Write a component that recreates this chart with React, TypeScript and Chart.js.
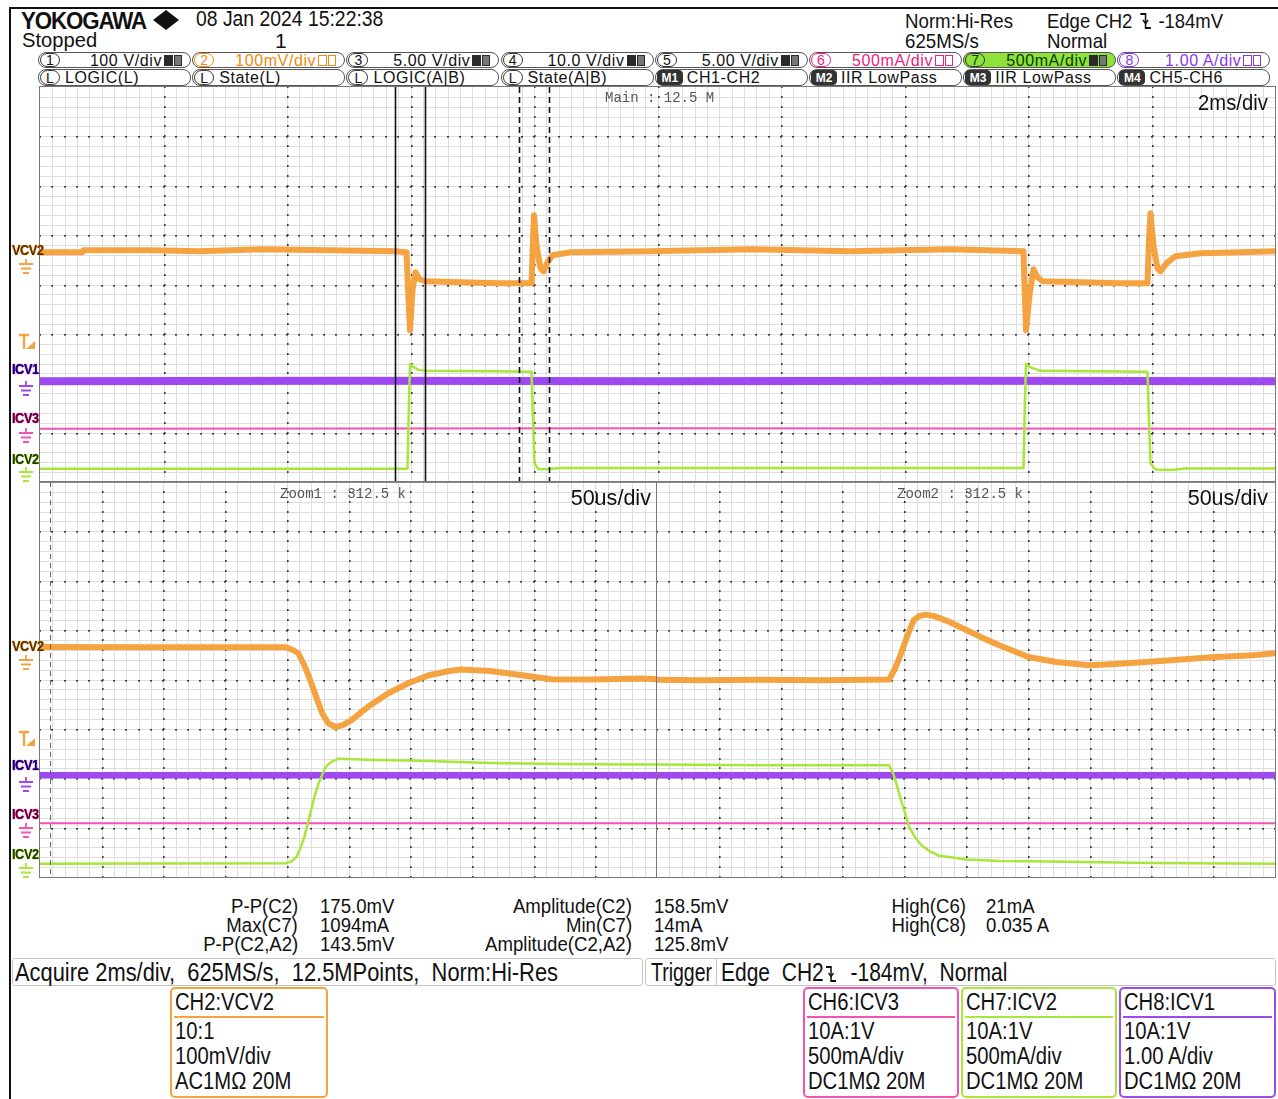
import React, { useEffect, useRef } from "react";
import { Chart, registerables } from "chart.js";

Chart.register(...registerables);

type Pt = [number, number];

// ================= DATA =================
// Main window: time in ms (2 ms/div, 10 div); vertical position in screen divisions (-4..4)
const mainSpanMs: Pt = [0, 20];
// Zoom windows: time in us (50 us/div, 10 div)
const zoomSpanUs: Pt = [0, 500];
const verticalSpanDiv: Pt = [-4, 4];

const mainVcv2: Pt[] = [
  [0, 0.654], [0.69, 0.654], [0.7, 0.695], [1.79, 0.695], [2.6, 0.674], [3.57, 0.715], [4.7, 0.695],
  [5.76, 0.674], [5.935, 0.654], [5.968, -0.319], [5.992, -0.928], [6.032, -0.116], [6.081, 0.248],
  [6.146, 0.106], [6.243, 0.066], [6.81, 0.045], [7.457, 0.025], [7.96, 0.025], [7.984, 0.897],
  [8.0, 1.404], [8.04, 0.796], [8.105, 0.329], [8.154, 0.268], [8.219, 0.451], [8.3, 0.593],
  [8.59, 0.654], [9.89, 0.674], [11.51, 0.715], [13.13, 0.674], [14.75, 0.715], [15.927, 0.674],
  [15.951, -0.319], [15.968, -0.928], [16.024, -0.218], [16.089, 0.309], [16.154, 0.147],
  [16.235, 0.066], [16.85, 0.045], [17.5, 0.025], [17.935, 0.025], [17.959, 0.897], [17.984, 1.445],
  [18.032, 0.796], [18.097, 0.329], [18.146, 0.268], [18.243, 0.431], [18.389, 0.573],
  [18.794, 0.634], [19.44, 0.654], [20, 0.674],
];
const mainIcv2: Pt[] = [
  [0, -3.733], [5.919, -3.733], [5.951, -3.727], [5.976, -2.347], [5.992, -1.607], [6.032, -1.658],
  [6.13, -1.729], [6.243, -1.749], [7.457, -1.759], [7.96, -1.769], [7.984, -2.753], [8.008, -3.625],
  [8.073, -3.743], [8.235, -3.737], [8.429, -3.716], [15.927, -3.716], [15.951, -2.347],
  [15.968, -1.607], [16.04, -1.678], [16.202, -1.749], [17.935, -1.769], [17.959, -2.753],
  [17.984, -3.625], [18.065, -3.747], [18.308, -3.757], [18.551, -3.727], [20, -3.727],
];
const mainIcv1: Pt[] = [[0, -1.96], [5, -1.95], [10, -1.96], [15, -1.95], [20, -1.96]];
const mainIcv3: Pt[] = [[0, -2.92], [10, -2.91], [20, -2.92]];

const zoom1Vcv2: Pt[] = [
  [0, 0.66], [89.5, 0.654], [198.8, 0.654], [201.2, 0.634], [205.3, 0.593], [209.3, 0.532],
  [214.2, 0.289], [219.0, -0.015], [223.9, -0.36], [228.7, -0.684], [233.6, -0.887], [239.3, -0.962],
  [244.9, -0.928], [252.2, -0.827], [265.2, -0.563], [282.2, -0.279], [298.4, -0.076], [315.1, 0.086],
  [331.6, 0.173], [341.3, 0.202], [364.8, 0.173], [390.7, 0.086], [414.2, 0.005], [447.4, -0.001],
  [486.3, 0.019], [500, 0.005],
];
const zoom1Icv2: Pt[] = [
  [0, -3.733], [199.6, -3.72], [203.6, -3.686], [207.7, -3.599], [210.9, -3.422], [214.2, -3.193],
  [218.2, -2.794], [222.3, -2.382], [225.5, -2.124], [229.1, -1.901], [232.0, -1.759], [235.7, -1.672],
  [242.3, -1.603], [265.2, -1.623], [308.1, -1.648], [364.8, -1.692], [421.4, -1.709], [486.3, -1.719],
  [500, -1.719],
];
const zoom1Icv1: Pt[] = [[0, -1.94], [250, -1.94], [500, -1.94]];
const zoom1Icv3: Pt[] = [[0, -2.91], [500, -2.91]];

const zoom2Vcv2: Pt[] = [
  [0, -0.005], [34.8, -0.015], [83.4, -0.005], [132.0, -0.015], [187.8, -0.001], [192.7, 0.228],
  [197.5, 0.532], [202.4, 0.877], [207.7, 1.202], [212.1, 1.283], [217.6, 1.313], [224.3, 1.283],
  [237.2, 1.161], [250.6, 0.999], [264.0, 0.837], [276.9, 0.695], [289.1, 0.573], [300.4, 0.457],
  [323.1, 0.356], [349.8, 0.289], [366.8, 0.309], [383.0, 0.336], [415.9, 0.39], [448.6, 0.451],
  [481.8, 0.492], [500, 0.532],
];
const zoom2Icv2: Pt[] = [
  [0, -1.719], [85.0, -1.739], [187.8, -1.739], [191.1, -1.901], [194.3, -2.165], [197.5, -2.449],
  [200.8, -2.712], [204.0, -2.99], [208.9, -3.199], [214.2, -3.361], [221.0, -3.483], [227.5, -3.564],
  [250.6, -3.645], [277.7, -3.676], [316.6, -3.686], [399.2, -3.716], [500, -3.733],
];
const zoom2Icv1: Pt[] = [[0, -1.94], [250, -1.94], [500, -1.94]];
const zoom2Icv3: Pt[] = [[0, -2.91], [500, -2.91]];

// zoom-window cursors on the main time base (ms) and marker inside zoom 1 (us)
const zoom1WindowMs = [5.749, 6.235];
const zoom2WindowMs = [7.749, 8.243];
const zoom1MarkerUs = [7.9];

// header / info texts
const row1Nums = ["1", "2", "3", "4", "5", "6", "7", "8"];
const row1Texts = ["100 V/div", "100mV/div", "5.00 V/div", "10.0 V/div", "5.00 V/div", "500mA/div", "500mA/div", "1.00 A/div"];
const row2Badges = ["L", "L", "L", "L", "M1", "M2", "M3", "M4"];
const row2Texts = ["LOGIC(L)", "State(L)", "LOGIC(A|B)", "State(A|B)", "CH1-CH2", "IIR LowPass", "IIR LowPass", "CH5-CH6"];

const measLabels1 = ["P-P(C2)", "Max(C7)", "P-P(C2,A2)"];
const measValues1 = ["175.0mV", "1094mA", "143.5mV"];
const measLabels2 = ["Amplitude(C2)", "Min(C7)", "Amplitude(C2,A2)"];
const measValues2 = ["158.5mV", "14mA", "125.8mV"];
const measLabels3 = ["High(C6)", "High(C8)"];
const measValues3 = ["21mA", "0.035 A"];

const chTitles = ["CH2:VCV2", "CH6:ICV3", "CH7:ICV2", "CH8:ICV1"];
const chLines = [
  ["10:1", "100mV/div", "AC1MΩ 20M"],
  ["10A:1V", "500mA/div", "DC1MΩ 20M"],
  ["10A:1V", "500mA/div", "DC1MΩ 20M"],
  ["10A:1V", "1.00 A/div", "DC1MΩ 20M"],
];

// ================= STYLE =================
const ORANGE = "#f5a341";
const GREEN = "#a8e63a";
const PURPLE = "#9e48f2";
const PINK = "#f652b4";
const FONT = "'Liberation Sans', Arial, sans-serif";
const MONO = "'Liberation Mono', 'DejaVu Sans Mono', monospace";

const gridPlugin = {
  id: "scopeGrid",
  beforeDatasetsDraw(chart: any, _a: any, o: any) {
    const { ctx, chartArea: a } = chart;
    const xs = chart.scales.x;
    const ys = chart.scales.y;
    ctx.save();
    ctx.fillStyle = "#ffffff";
    ctx.fillRect(a.left, a.top, a.width, a.height);
    const nx = Math.round((xs.max - xs.min) / o.xFine);
    const ny = Math.round((ys.max - ys.min) / o.yFine);
    const xm = Math.round(o.xMajor / o.xFine);
    const ym = Math.round(o.yMajor / o.yFine);
    ctx.strokeStyle = "#dedede";
    ctx.lineWidth = 1;
    ctx.beginPath();
    for (let i = 1; i < nx; i++) {
      const p = Math.round(xs.getPixelForValue(xs.min + i * o.xFine)) + 0.5;
      ctx.moveTo(p, a.top);
      ctx.lineTo(p, a.bottom);
    }
    for (let j = 1; j < ny; j++) {
      const p = Math.round(ys.getPixelForValue(ys.min + j * o.yFine)) + 0.5;
      ctx.moveTo(a.left, p);
      ctx.lineTo(a.right, p);
    }
    ctx.stroke();
    ctx.fillStyle = "#3a3a3a";
    for (let i = xm; i < nx; i += xm) {
      const px = Math.round(xs.getPixelForValue(xs.min + i * o.xFine));
      for (let j = 0; j <= ny; j++) {
        const py = Math.round(ys.getPixelForValue(ys.min + j * o.yFine));
        ctx.fillRect(px, py - 1, 1.6, 2);
      }
    }
    for (let j = ym; j < ny; j += ym) {
      const py = Math.round(ys.getPixelForValue(ys.min + j * o.yFine));
      for (let i = 0; i <= nx; i++) {
        const px = Math.round(xs.getPixelForValue(xs.min + i * o.xFine));
        ctx.fillRect(px - 1, py, 2, 1.6);
      }
    }
    ctx.restore();
  },
};

const cursorPlugin = {
  id: "scopeCursors",
  afterDatasetsDraw(chart: any, _a: any, o: any) {
    const { ctx, chartArea: a } = chart;
    const xs = chart.scales.x;
    ctx.save();
    (o.lines || []).forEach((l: any) => {
      const p = Math.round(xs.getPixelForValue(l.value)) + 0.5;
      ctx.strokeStyle = l.color;
      ctx.lineWidth = l.width;
      ctx.setLineDash(l.dash);
      ctx.beginPath();
      ctx.moveTo(p, a.top);
      ctx.lineTo(p, a.bottom);
      ctx.stroke();
    });
    ctx.restore();
  },
};

type Trace = { points: Pt[]; color: string; width: number };

function ScopeChart(props: {
  left: number; top: number; width: number; height: number;
  span: Pt; xFine: number; xMajor: number; traces: Trace[]; cursors: any[];
}) {
  const ref = useRef<HTMLCanvasElement>(null);
  useEffect(() => {
    const chart = new Chart(ref.current as HTMLCanvasElement, {
      type: "line",
      data: {
        datasets: props.traces.map((t) => ({
          data: t.points.map(([x, y]) => ({ x, y })),
          borderColor: t.color,
          borderWidth: t.width,
          pointRadius: 0,
          tension: 0,
          fill: false,
          borderJoinStyle: "round",
          borderCapStyle: "round",
        })),
      } as any,
      options: {
        animation: false,
        responsive: false,
        devicePixelRatio: 1,
        events: [],
        layout: { padding: 0 },
        plugins: {
          legend: { display: false },
          tooltip: { enabled: false },
          scopeGrid: { xFine: props.xFine, xMajor: props.xMajor, yFine: 0.2, yMajor: 1 },
          scopeCursors: { lines: props.cursors },
        } as any,
        scales: {
          x: { type: "linear", min: props.span[0], max: props.span[1], display: false },
          y: { type: "linear", min: verticalSpanDiv[0], max: verticalSpanDiv[1], display: false },
        },
      },
      plugins: [gridPlugin, cursorPlugin],
    } as any);
    return () => chart.destroy();
  }, []);
  return (
    <canvas
      ref={ref}
      width={props.width}
      height={props.height}
      style={{ position: "absolute", left: props.left, top: props.top, width: props.width, height: props.height }}
    />
  );
}

function Txt(p: { x: number; y: number; size: number; sx?: number; color?: string; weight?: any; align?: string; font?: string; ls?: number; children: any }) {
  const right = p.align === "right";
  const style: any = {
    position: "absolute",
    top: p.y - 0.1175 * p.size,
    fontSize: p.size,
    lineHeight: 1,
    whiteSpace: "pre",
    color: p.color || "#111",
    fontWeight: p.weight || "normal",
    fontFamily: p.font || FONT,
    letterSpacing: p.ls || 0,
    transform: `scaleX(${p.sx ?? 1})`,
    transformOrigin: right ? "right top" : "left top",
  };
  if (right) style.right = 1278 - p.x;
  else style.left = p.x;
  return <div style={style}>{p.children}</div>;
}

function Ground({ x, y, color }: { x: number; y: number; color: string }) {
  return (
    <svg width={16} height={15} style={{ position: "absolute", left: x, top: y }}>
      <path d="M8 0 V5 M1 5 H15 M3 9.5 H13 M5 14 H11" stroke={color} strokeWidth={1.8} fill="none" />
    </svg>
  );
}

function TrigMark({ x, y }: { x: number; y: number }) {
  return (
    <svg width={20} height={18} style={{ position: "absolute", left: x, top: y }}>
      <path d="M2 2 H12 M7 2 V16" stroke={ORANGE} strokeWidth={2.4} fill="none" />
      <path d="M9 16 L18 16 L18 8 Z" fill={ORANGE} />
    </svg>
  );
}

function Label({ x, y, text, color, dark }: { x: number; y: number; text: string; color: string; dark: string }) {
  return (
    <div
      style={{
        position: "absolute", left: x, top: y, fontSize: 15, lineHeight: 1, fontWeight: "bold",
        fontFamily: FONT, color: dark, letterSpacing: -0.5, transform: "scaleX(0.85)", transformOrigin: "left top",
        textShadow: `0 0 1px ${color}, 0 0 1px ${color}, 0 0 1px ${color}`,
      }}
    >
      {text}
    </div>
  );
}

function EdgeSym({ color = "#111" }: { color?: string }) {
  return (
    <svg width={14} height={18} style={{ display: "inline-block", verticalAlign: "-2px", margin: "0 2px" }}>
      <path d="M1 2 H7 V16 H13" stroke={color} strokeWidth={1.8} fill="none" />
      <path d="M4 8 L7 11.5 L10 8" stroke={color} strokeWidth={1.6} fill="none" />
    </svg>
  );
}

function SmallIcon({ color, dark }: { color: string; dark: boolean }) {
  return (
    <div style={{ position: "absolute", right: 8, top: 2, display: "flex", gap: 1 }}>
      <div style={{ width: 9, height: 11, background: dark ? "#2a2a2a" : "#fff", border: dark ? "none" : `1px solid ${color}`, boxSizing: "border-box" }} />
      <div style={{ width: 8, height: 11, border: `1px solid ${dark ? "#2a2a2a" : color}`, boxSizing: "border-box", background: dark ? "#777" : "#fff" }} />
    </div>
  );
}

const row1Color = ["#111", "#f08a10", "#111", "#111", "#111", "#f0207f", "#0a3a00", "#8a35f0"];

function HeaderRows() {
  const cells = [];
  for (let i = 0; i < 8; i++) {
    const x = 38 + i * 154.2;
    const col = row1Color[i];
    const isG = i === 6;
    cells.push(
      <div key={"a" + i} style={{ position: "absolute", left: x, top: 52, width: 153, height: 16, border: "1px solid #555", borderRadius: 8, boxSizing: "border-box", background: isG ? "#8fe23a" : "#fff", overflow: "hidden" }}>
        <div style={{ position: "absolute", left: 1, top: 0, width: 20, height: 14, border: `1px solid ${isG ? "#333" : col === "#111" ? "#333" : col}`, borderRadius: 8, boxSizing: "border-box", fontSize: 14, lineHeight: "13px", textAlign: "center", fontFamily: FONT, color: col }}>{row1Nums[i]}</div>
        <div style={{ position: "absolute", right: 28, top: 0, fontSize: 16, lineHeight: "15px", fontFamily: FONT, color: col, whiteSpace: "pre", letterSpacing: 0.6 }}>{row1Texts[i]}</div>
        <SmallIcon color={col === "#111" ? "#333" : col} dark={col === "#111" || isG} />
      </div>
    );
    const isM = row2Badges[i].startsWith("M");
    cells.push(
      <div key={"b" + i} style={{ position: "absolute", left: x, top: 69, width: 153, height: 17, border: "1px solid #555", borderRadius: 8, boxSizing: "border-box", background: "#fff" }}>
        <div style={{ position: "absolute", left: 1, top: 0, width: isM ? 26 : 20, height: 15, border: "1px solid #333", borderRadius: isM ? 4 : 8, boxSizing: "border-box", fontSize: isM ? 12 : 14, lineHeight: "14px", textAlign: "center", fontFamily: FONT, fontWeight: isM ? "bold" : "normal", color: isM ? "#fff" : "#111", background: isM ? "#333" : "#fff" }}>{row2Badges[i]}</div>
        <div style={{ position: "absolute", left: isM ? 31 : 26, top: 0, fontSize: 16, lineHeight: "16px", fontFamily: FONT, color: "#111", whiteSpace: "pre", letterSpacing: 0.6 }}>{row2Texts[i]}</div>
      </div>
    );
  }
  return <>{cells}</>;
}

function ChannelBox({ i, x, w, color }: { i: number; x: number; w: number; color: string }) {
  return (
    <div style={{ position: "absolute", left: x, top: 987, width: w, height: 111, border: `2px solid ${color}`, borderRadius: 5, boxSizing: "border-box" }}>
      <div style={{ position: "absolute", left: 2, right: 2, top: 27, height: 2, background: color }} />
      <Txt x={3} y={5} size={23} sx={0.88}>{chTitles[i]}</Txt>
      {chLines[i].map((s, k) => (
        <Txt key={k} x={3} y={34 + k * 25} size={23} sx={0.88}>{s}</Txt>
      ))}
    </div>
  );
}

export default function App() {
  const topTraces: Trace[] = [
    { points: mainVcv2, color: ORANGE, width: 6 },
    { points: mainIcv2, color: GREEN, width: 2.5 },
    { points: mainIcv3, color: PINK, width: 2 },
    { points: mainIcv1, color: PURPLE, width: 8 },
  ];
  const z1: Trace[] = [
    { points: zoom1Vcv2, color: ORANGE, width: 6 },
    { points: zoom1Icv2, color: GREEN, width: 2.5 },
    { points: zoom1Icv3, color: PINK, width: 2 },
    { points: zoom1Icv1, color: PURPLE, width: 6.5 },
  ];
  const z2: Trace[] = [
    { points: zoom2Vcv2, color: ORANGE, width: 6 },
    { points: zoom2Icv2, color: GREEN, width: 2.5 },
    { points: zoom2Icv3, color: PINK, width: 2 },
    { points: zoom2Icv1, color: PURPLE, width: 6.5 },
  ];
  const mainCursors = [
    ...zoom1WindowMs.map((v) => ({ value: v, color: "#111", width: 1.6, dash: [] })),
    ...zoom2WindowMs.map((v) => ({ value: v, color: "#111", width: 1.6, dash: [6, 4] })),
  ];
  const z1Cursors = zoom1MarkerUs.map((v) => ({ value: v, color: "#666", width: 1, dash: [5, 4] }));

  return (
    <div style={{ position: "absolute", left: 0, top: 0, width: 1278, height: 1099, background: "#fff", overflow: "hidden", fontFamily: FONT }}>
      {/* outer frame */}
      <div style={{ position: "absolute", left: 9, top: 7, width: 1269, height: 2, background: "#111" }} />
      <div style={{ position: "absolute", left: 9, top: 7, width: 2, height: 1092, background: "#111" }} />

      {/* header */}
      <Txt x={21} y={12} size={24} weight="bold" ls={-1.2} sx={0.93}>YOKOGAWA</Txt>
      <svg width={28} height={22} style={{ position: "absolute", left: 152, top: 9 }}>
        <polygon points="14,1 27,11 14,21 1,11" fill="#111" />
      </svg>
      <Txt x={196} y={11} size={22} sx={0.88}>08 Jan 2024 15:22:38</Txt>
      <Txt x={22} y={31} size={21} sx={0.96}>Stopped</Txt>
      <Txt x={275} y={32} size={21}>1</Txt>
      <Txt x={905} y={12} size={21} sx={0.89}>Norm:Hi-Res</Txt>
      <Txt x={905} y={32} size={21} sx={0.89}>625MS/s</Txt>
      <Txt x={1047} y={12} size={21} sx={0.88}>
        <span>Edge CH2 </span>
        <EdgeSym />
        <span> -184mV</span>
      </Txt>
      <Txt x={1047} y={32} size={21} sx={0.89}>Normal</Txt>
      <HeaderRows />

      {/* plots */}
      <ScopeChart left={40} top={87} width={1235} height={395} span={mainSpanMs} xFine={0.2} xMajor={2} traces={topTraces} cursors={mainCursors} />
      <ScopeChart left={40} top={482} width={617} height={395} span={zoomSpanUs} xFine={10} xMajor={50} traces={z1} cursors={z1Cursors} />
      <ScopeChart left={657} top={482} width={618} height={395} span={zoomSpanUs} xFine={10} xMajor={50} traces={z2} cursors={[]} />

      <div style={{ position: "absolute", left: 39, top: 86, width: 1237, height: 397, border: "1px solid #777", boxSizing: "border-box" }} />
      <div style={{ position: "absolute", left: 39, top: 481, width: 1237, height: 2, background: "#888" }} />
      <div style={{ position: "absolute", left: 39, top: 481, width: 1237, height: 397, border: "1px solid #777", boxSizing: "border-box" }} />
      <div style={{ position: "absolute", left: 656, top: 482, width: 1, height: 395, background: "#777" }} />

      {/* in-plot texts */}
      <Txt x={605} y={93} size={14} color="#555" font={MONO}>Main : 12.5 M</Txt>
      <Txt x={1268} y={95} size={22} align="right" sx={0.92}>2ms/div</Txt>
      <Txt x={280} y={489} size={14} color="#555" font={MONO}>Zoom1 : 312.5 k</Txt>
      <Txt x={651} y={490} size={22} align="right" sx={0.98}>50us/div</Txt>
      <Txt x={897} y={489} size={14} color="#555" font={MONO}>Zoom2 : 312.5 k</Txt>
      <Txt x={1268} y={490} size={22} align="right" sx={0.98}>50us/div</Txt>

      {/* channel markers: main */}
      <Label x={12} y={242} text="VCV2" color={ORANGE} dark="#5a3200" />
      <Ground x={18} y={259} color={ORANGE} />
      <TrigMark x={17} y={333} />
      <Label x={12} y={361} text="ICV1" color={PURPLE} dark="#1c0060" />
      <Ground x={18} y={381} color={PURPLE} />
      <Label x={12} y={410} text="ICV3" color={PINK} dark="#5a0030" />
      <Ground x={18} y={428} color={PINK} />
      <Label x={12} y={451} text="ICV2" color={GREEN} dark="#203800" />
      <Ground x={18} y={467} color={GREEN} />

      {/* channel markers: zoom */}
      <Label x={12} y={638} text="VCV2" color={ORANGE} dark="#5a3200" />
      <Ground x={18} y={655} color={ORANGE} />
      <TrigMark x={17} y={730} />
      <Label x={12} y={757} text="ICV1" color={PURPLE} dark="#1c0060" />
      <Ground x={18} y={777} color={PURPLE} />
      <Label x={12} y={806} text="ICV3" color={PINK} dark="#5a0030" />
      <Ground x={18} y={823} color={PINK} />
      <Label x={12} y={846} text="ICV2" color={GREEN} dark="#203800" />
      <Ground x={18} y={863} color={GREEN} />

      {/* measurements */}
      {measLabels1.map((s, k) => (
        <Txt key={"l1" + k} x={298} y={898 + k * 19} size={20} align="right" sx={0.93}>{s}</Txt>
      ))}
      {measValues1.map((s, k) => (
        <Txt key={"v1" + k} x={320} y={898 + k * 19} size={20} sx={0.93}>{s}</Txt>
      ))}
      {measLabels2.map((s, k) => (
        <Txt key={"l2" + k} x={632} y={898 + k * 19} size={20} align="right" sx={0.93}>{s}</Txt>
      ))}
      {measValues2.map((s, k) => (
        <Txt key={"v2" + k} x={654} y={898 + k * 19} size={20} sx={0.93}>{s}</Txt>
      ))}
      {measLabels3.map((s, k) => (
        <Txt key={"l3" + k} x={966} y={898 + k * 19} size={20} align="right" sx={0.93}>{s}</Txt>
      ))}
      {measValues3.map((s, k) => (
        <Txt key={"v3" + k} x={986} y={898 + k * 19} size={20} sx={0.93}>{s}</Txt>
      ))}

      {/* acquire / trigger bars */}
      <div style={{ position: "absolute", left: 12, top: 958, width: 631, height: 28, border: "1px solid #c4c4c4", borderRadius: 3, boxSizing: "border-box" }} />
      <Txt x={15} y={963} size={25} sx={0.875}>Acquire 2ms/div,  625MS/s,  12.5MPoints,  Norm:Hi-Res</Txt>
      <div style={{ position: "absolute", left: 645, top: 958, width: 631, height: 28, border: "1px solid #c4c4c4", borderRadius: 3, boxSizing: "border-box" }} />
      <div style={{ position: "absolute", left: 716, top: 959, width: 1, height: 26, background: "#c4c4c4" }} />
      <Txt x={651} y={963} size={25} sx={0.78}>Trigger</Txt>
      <Txt x={721} y={963} size={25} sx={0.84}>
        <span>Edge  CH2</span>
        <EdgeSym />
        <span>  -184mV,  Normal</span>
      </Txt>

      {/* channel info boxes */}
      <ChannelBox i={0} x={170} w={158} color={ORANGE} />
      <ChannelBox i={1} x={803} w={156} color={PINK} />
      <ChannelBox i={2} x={961} w={156} color={GREEN} />
      <ChannelBox i={3} x={1119} w={157} color={PURPLE} />
    </div>
  );
}
